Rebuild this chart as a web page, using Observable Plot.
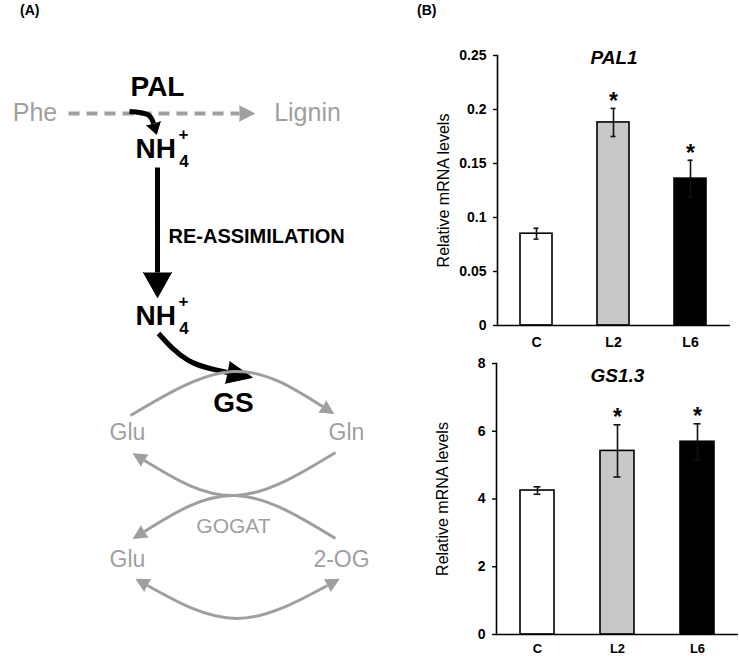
<!DOCTYPE html>
<html>
<head>
<meta charset="utf-8">
<script src="https://cdn.jsdelivr.net/npm/d3@7"></script>
<script src="https://cdn.jsdelivr.net/npm/@observablehq/plot@0.6"></script>
<style>
  html, body { margin: 0; padding: 0; background: #fff; }
  #fig { position: relative; width: 739px; height: 656px; overflow: hidden; background: #fff; font-family: "Liberation Sans", Arial, sans-serif; }
  #fig > svg, #fig > div { position: absolute; }
  .panel { font-weight: bold; font-size: 14px; color: #000; }
</style>
</head>
<body>
<div id="fig"></div>
<script>
// ---------- Panel B data (bar charts) ----------
const categories = ["C", "L2", "L6"];
const pal1Mean = [0.085, 0.188, 0.136];
const pal1SE = [0.005, 0.013, 0.017];
const gs13Mean = [4.25, 5.42, 5.69];
const gs13SE = [0.11, 0.77, 0.53];
const significant = [false, true, true];
const barFills = ["#ffffff", "#c8c8c8", "#000000"];
const pal1Ticks = [0, 0.05, 0.1, 0.15, 0.2, 0.25];
const gs13Ticks = [0, 2, 4, 6, 8];
const yLabel = "Relative mRNA levels";
const chartTitles = ["PAL1", "GS1.3"];
const panelLabels = ["(A)", "(B)"];

// ---------- Panel A data (pathway diagram, layout units) ----------
const nodeText = ["Phe", "Lignin", "PAL", "NH", "NH", "RE-ASSIMILATION", "GS", "Glu", "Gln", "GOGAT", "Glu", "2-OG"];
const nodeRole = ["pathway", "pathway", "enzyme", "ion", "ion", "process", "enzyme", "metabolite", "metabolite", "cycle", "metabolite", "metabolite"];
const nodeX = [34.5, 307, 157, 135, 135, 168, 233, 127, 346, 233, 127, 341];
const nodeY = [112.5, 112.5, 87, 149, 316, 236.5, 403, 432, 432, 526, 559, 559];

const edgePoints = [
  [[68, 113], [239, 113]],                 // Phe -> Lignin (dashed)
  [[129, 111], [147, 114], [153, 123]],    // PAL releases NH4+
  [[157, 167], [157, 272]],                // re-assimilation
  [[158, 333], [188, 360], [227, 372]],    // NH4+ -> GS
  [[130, 415], [233, 371], [322, 406]],    // Glu -> Gln
  [[335, 452], [235, 495], [144, 460]],    // Gln -> Glu
  [[335, 538], [235, 495], [144, 531]],    // 2-OG -> Glu
  [[147, 585], [236, 618], [327, 585]]     // Glu <-> 2-OG
];
const edgeKind = ["dashed", "black", "black", "black", "gray", "gray", "gray", "gray"];
const edgeHeads = ["end", "end", "end", "end", "end", "end", "end", "both"];

// ---------- styles ----------
const GRAY = "#9f9f9f";
const FONT = "Liberation Sans, Arial, Helvetica, sans-serif";
const edgeStyle = {
  dashed: {stroke: GRAY, width: 4, dash: "11,7", headLength: 15, headHalf: 7.5},
  gray: {stroke: GRAY, width: 3, dash: null, headLength: 13, headHalf: 6.5},
  black: {stroke: "#000", width: 5, dash: null, headLength: 25, headHalf: 12}
};
const edgeHeadOverride = [null, {headLength: 11, headHalf: 7}, {headLength: 25, headHalf: 14}, {headLength: 25, headHalf: 11}, null, null, null, null];
const roleStyle = {
  pathway: {fill: GRAY, fontSize: 25, fontWeight: "normal", textAnchor: "middle"},
  enzyme: {fill: "#000", fontSize: 28, fontWeight: "bold", textAnchor: "middle"},
  ion: {fill: "#000", fontSize: 28, fontWeight: "bold", textAnchor: "start"},
  process: {fill: "#000", fontSize: 20, fontWeight: "bold", textAnchor: "start"},
  metabolite: {fill: GRAY, fontSize: 23, fontWeight: "normal", textAnchor: "middle"},
  cycle: {fill: GRAY, fontSize: 21, fontWeight: "normal", textAnchor: "middle"}
};

// tangent of d3's natural spline at an end (pointing outward)
function endDirection(pts, atEnd) {
  if (pts.length === 2) {
    const [a, b] = pts;
    return atEnd ? [b[0] - a[0], b[1] - a[1]] : [a[0] - b[0], a[1] - b[1]];
  }
  const [p0, p1, p2] = pts;
  if (atEnd) return [0, 1].map(k => (p2[k] - p1[k]) + 0.25 * (p0[k] - 2 * p1[k] + p2[k]));
  return [0, 1].map(k => -((p1[k] - p0[k]) - 0.25 * (p0[k] - 2 * p1[k] + p2[k])));
}

// ---------- Panel A ----------
const nodes = nodeText.map((t, i) => ({text: t, role: nodeRole[i], x: nodeX[i], y: nodeY[i]}));
const diagramMarks = [];
edgePoints.forEach((pts, i) => {
  const st = Object.assign({}, edgeStyle[edgeKind[i]], edgeHeadOverride[i] || {});
  const data = pts.map(([x, y]) => ({x, y}));
  diagramMarks.push(Plot.line(data, {
    x: "x", y: "y", curve: pts.length > 2 ? "natural" : "linear",
    stroke: st.stroke, strokeWidth: st.width, strokeDasharray: st.dash || undefined, strokeLinecap: "butt"
  }));
  const heads = [];
  const mk = (p, atEnd) => {
    const [dx, dy] = endDirection(pts, atEnd);
    heads.push({x: p[0], y: p[1], angle: Math.atan2(dy, dx) * 180 / Math.PI + 90});
  };
  if (edgeHeads[i] === "end" || edgeHeads[i] === "both") mk(pts[pts.length - 1], true);
  if (edgeHeads[i] === "start" || edgeHeads[i] === "both") mk(pts[0], false);
  diagramMarks.push(Plot.vector(heads, {
    x: "x", y: "y", rotate: "angle", length: st.headLength, r: st.headHalf,
    shape: "spike", anchor: "start", fill: st.stroke, stroke: st.stroke, strokeWidth: 1
  }));
});
Object.entries(roleStyle).forEach(([role, s]) => {
  diagramMarks.push(Plot.text(nodes.filter(d => d.role === role), {
    x: "x", y: "y", text: "text", fill: s.fill, fontSize: s.fontSize, fontWeight: s.fontWeight,
    textAnchor: s.textAnchor, lineAnchor: "middle", fontFamily: FONT
  }));
});
const ions = nodes.filter(d => d.role === "ion");
diagramMarks.push(Plot.text(ions, {x: "x", y: "y", text: () => "4", dx: 48.5, dy: 12, fontSize: 17, fontWeight: "bold", fontFamily: FONT}));
diagramMarks.push(Plot.text(ions, {x: "x", y: "y", text: () => "+", dx: 48, dy: -15, fontSize: 17, fontWeight: "bold", fontFamily: FONT}));

const diagram = Plot.plot({
  width: 370, height: 656, margin: 0,
  x: {domain: [0, 370], range: [0, 370], axis: null},
  y: {domain: [0, 656], range: [0, 656], axis: null},
  style: {background: "transparent", fontFamily: FONT},
  marks: diagramMarks
});

// ---------- Panel B ----------
function barChart({means, ses, ticks, title, width, height, marginTop, marginBottom, marginLeft, marginRight, titleDy, catPadding, catSize}) {
  const rows = categories.map((c, i) => ({cat: c, mean: means[i], se: ses[i], sig: significant[i]}));
  const capStyle = {x: "cat", stroke: "#111", strokeWidth: 1.6, insetLeft: 13.5, insetRight: 13.5};
  return Plot.plot({
    width, height, marginTop, marginBottom, marginLeft, marginRight,
    style: {fontFamily: FONT, fontSize: "14px", color: "#000", background: "transparent", overflow: "visible"},
    x: {domain: categories, paddingInner: 0.58, paddingOuter: 0.29, label: null},
    y: {domain: [ticks[0], ticks[ticks.length - 1]], label: null},
    color: {domain: categories, range: barFills},
    marks: [
      Plot.barY(rows, {x: "cat", y: "mean", fill: "cat", stroke: "#000", strokeWidth: 1.6}),
      Plot.ruleX(rows, {x: "cat", y1: d => d.mean - d.se, y2: d => d.mean + d.se, stroke: "#111", strokeWidth: 1.6}),
      Plot.tickY(rows, {...capStyle, y: d => d.mean + d.se}),
      Plot.tickY(rows, {...capStyle, y: d => d.mean - d.se}),
      Plot.text(rows.filter(d => d.sig), {x: "cat", y: d => d.mean + d.se, text: () => "*", dy: -7, fontSize: 23, fontWeight: "bold", fill: "#000"}),
      Plot.ruleY([ticks[0]], {stroke: "#000", strokeWidth: 1.6}),
      Plot.frame({anchor: "left", stroke: "#000", strokeWidth: 1.6}),
      Plot.axisY({ticks, tickFormat: d => String(d), tickSize: 4, tickPadding: 7, fontWeight: "bold", fontSize: 14, label: null, stroke: "#000", strokeWidth: 1.4}),
      Plot.axisX({tickSize: 0, tickPadding: catPadding, fontWeight: "bold", fontSize: catSize, label: null}),
      Plot.text([title], {frameAnchor: "top", dy: titleDy, lineAnchor: "middle", fontSize: 19, fontWeight: "bold", fontStyle: "italic"}),
      Plot.text([yLabel], {frameAnchor: "left", textAnchor: "middle", lineAnchor: "middle", rotate: -90, dx: -54, fontSize: 16})
    ]
  });
}

const chartTop = barChart({
  means: pal1Mean, ses: pal1SE, ticks: pal1Ticks, title: chartTitles[0],
  width: 359, height: 310, marginTop: 15, marginBottom: 25, marginLeft: 117, marginRight: 9, titleDy: 2,
  catPadding: 12, catSize: 14
});
const chartBottom = barChart({
  means: gs13Mean, ses: gs13SE, ticks: gs13Ticks, title: chartTitles[1],
  width: 359, height: 316, marginTop: 23, marginBottom: 22, marginLeft: 116, marginRight: 1, titleDy: 12,
  catPadding: 9, catSize: 13
});

const fig = document.getElementById("fig");
diagram.style.left = "0px"; diagram.style.top = "0px";
chartTop.style.left = "380px"; chartTop.style.top = "40px";
chartBottom.style.left = "380px"; chartBottom.style.top = "340px";
fig.append(diagram, chartTop, chartBottom);
[[panelLabels[0], 20], [panelLabels[1], 417]].forEach(([t, left]) => {
  const d = document.createElement("div");
  d.className = "panel";
  d.textContent = t;
  d.style.left = left + "px";
  d.style.top = "2px";
  fig.append(d);
});
</script>
</body>
</html>
